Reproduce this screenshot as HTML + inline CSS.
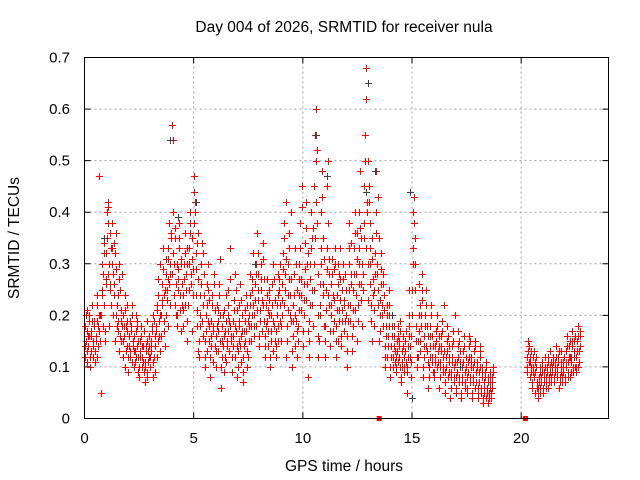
<!DOCTYPE html>
<html><head><meta charset="utf-8"><style>
html,body{margin:0;padding:0;background:#fff;}
svg{display:block;font-family:"Liberation Sans",sans-serif;}
</style></head><body>
<svg id="chart" width="640" height="480" viewBox="0 0 640 480">
<text x="344" y="32" font-size="15.5" text-anchor="middle">Day 004 of 2026, SRMTID for receiver nula</text>
<text x="19" y="238" font-size="15.5" text-anchor="middle" transform="rotate(-90 19 238)">SRMTID / TECUs</text>
<text x="344" y="471" font-size="15.5" text-anchor="middle">GPS time / hours</text>
<g id="grid"></g>
<g id="axes"></g>
<g id="marks"></g>
<rect x="84.5" y="57.5" width="524" height="361" fill="none" stroke="#000" stroke-width="1"/>
</svg>
<script>
const xTicks=[0,5,10,15,20];
const yTicks=[0,0.1,0.2,0.3,0.4,0.5,0.6,0.7];
const yTickLabels=["0","0.1","0.2","0.3","0.4","0.5","0.6","0.7"];
const segHours=[0,0.25,0.5,0.75,1,1.25,1.5,1.75,2,2.25,2.5,2.75,3,3.25,3.5,3.75,4,4.25,4.5,4.75,5,5.25,5.5,5.75,6,6.25,6.5,6.75,7,7.25,7.5,7.75,8,8.25,8.5,8.75,9,9.25,9.5,9.75,10,10.25,10.5,10.75,11,11.25,11.5,11.75,12,12.25,12.5,12.75,13,13.25,13.5,13.75,14,14.25,14.5,14.75,15,15.25,15.5,15.75,16,16.25,16.5,16.75,17,17.25,17.5,17.75,18,18.25,18.5,20.25,20.5,20.75,21,21.25,21.5,21.75,22,22.25,22.5];
const segValues=[
[.12,.18,.15,.21,.11,.14,.19,.16],[.10,.13,.17,.22,.12,.15,.19,.11],[.13,.16,.24,.12,.18,.20,.47,.15],[.05,.25,.30,.18,.22,.34,.15,.27],
[.32,.40,.42,.28,.18,.36,.25,.22],[.30,.38,.20,.34,.26,.15,.36,.18],[.22,.17,.30,.13,.25,.19,.15,.28],[.12,.20,.16,.24,.10,.18,.14,.22],
[.09,.14,.19,.12,.17,.22,.11,.15],[.10,.16,.13,.20,.12,.18,.09,.15],[.08,.12,.15,.18,.10,.14,.11,.17],[.07,.11,.14,.19,.09,.13,.16,.12],
[.10,.15,.13,.18,.20,.08,.12,.16],[.14,.18,.22,.12,.27,.16,.20,.30],[.16,.22,.26,.33,.19,.24,.14,.28],[.20,.25,.31,.18,.38,.22,.28,.35],
[.57,.54,.40,.30,.22,.35,.26,.18],[.20,.27,.33,.38,.24,.17,.30,.22],[.18,.24,.30,.36,.22,.28,.15,.33],[.22,.30,.38,.40,.26,.35,.17,.29],
[.47,.44,.40,.32,.24,.18,.36,.13],[.12,.18,.24,.30,.34,.16,.22,.28],[.10,.15,.20,.26,.13,.30,.18,.23],[.08,.14,.19,.24,.17,.11,.28,.21],
[.10,.16,.22,.13,.19,.26,.15,.31],[.06,.12,.18,.14,.21,.09,.17,.24],[.11,.15,.20,.25,.13,.18,.33,.16],[.09,.14,.19,.23,.12,.28,.17,.21],
[.08,.13,.18,.22,.26,.11,.16,.20],[.07,.12,.17,.21,.15,.24,.10,.19],[.12,.18,.22,.28,.15,.25,.20,.32],[.16,.20,.26,.30,.18,.36,.23,.28],
[.14,.19,.25,.30,.17,.22,.34,.27],[.12,.16,.22,.27,.19,.14,.25,.20],[.10,.15,.20,.26,.13,.30,.18,.23],[.12,.17,.22,.28,.15,.25,.19,.30],
[.15,.20,.26,.32,.38,.22,.28,.42],[.12,.18,.24,.30,.36,.20,.27,.40],[.10,.16,.22,.28,.14,.33,.19,.25],[.12,.18,.24,.30,.38,.21,.27,.45],
[.14,.20,.26,.34,.42,.23,.30,.17],[.08,.15,.22,.30,.40,.25,.35,.18],[.30,.45,.55,.60,.50,.38,.20,.12],[.15,.22,.30,.40,.48,.26,.35,.18],
[.12,.18,.25,.33,.45,.50,.22,.28],[.14,.20,.26,.31,.17,.23,.29,.33],[.12,.18,.24,.30,.15,.21,.27,.33],[.14,.19,.25,.30,.17,.22,.28,.20],
[.10,.16,.22,.30,.38,.19,.26,.34],[.13,.18,.25,.33,.40,.21,.28,.36],[.15,.22,.30,.40,.48,.26,.35,.18],[.25,.35,.45,.55,.62,.68,.40,.30],
[.50,.45,.38,.30,.22,.15,.35,.27],[.18,.25,.32,.40,.48,.28,.22,.35],[.15,.20,.26,.32,.22,.18,.28,.24],[.10,.14,.18,.22,.12,.16,.20,.25],
[.08,.12,.16,.20,.10,.14,.18,.11],[.09,.12,.15,.18,.11,.14,.17,.10],[.07,.10,.13,.16,.09,.12,.15,.11],[.05,.10,.14,.18,.25,.12,.08,.16],
[.20,.30,.40,.43,.35,.25,.15,.10],[.10,.15,.20,.26,.13,.18,.23,.28],[.08,.12,.16,.20,.25,.14,.18,.11],[.06,.10,.14,.18,.22,.12,.16,.09],
[.08,.11,.14,.17,.20,.10,.13,.16],[.06,.10,.13,.16,.19,.09,.12,.22],[.05,.09,.12,.15,.18,.08,.11,.14],[.04,.08,.11,.14,.17,.07,.10,.20],
[.05,.08,.11,.14,.17,.07,.10,.13],[.04,.07,.10,.13,.16,.06,.09,.12],[.05,.08,.11,.14,.16,.07,.10,.12],[.04,.07,.10,.13,.15,.06,.09,.11],
[.04,.06,.09,.12,.14,.05,.08,.10],[.03,.05,.07,.09,.11,.04,.06,.08],[.03,.05,.07,.09,.04,.06,.08,.10],
[.09,.12,.15,.11,.14,.08,.13,.10],[.06,.09,.12,.08,.11,.05,.10,.07],[.04,.06,.08,.10,.05,.07,.09,.11],[.05,.07,.09,.12,.06,.08,.10,.11],
[.06,.08,.10,.13,.07,.09,.11,.12],[.07,.09,.11,.14,.08,.10,.12,.13],[.06,.08,.10,.13,.07,.09,.11,.12],[.07,.10,.13,.16,.08,.11,.14,.12],
[.08,.11,.14,.17,.09,.12,.15,.10],[.09,.12,.15,.18,.10,.13,.16,.14]];
const segValuesB=[
[.14,.20,.17,.13,.16,.20],[.12,.16,.19,.14,.18,.13],[.15,.19,.22,.14,.17,.20],[.20,.24,.28,.32,.17,.26],
[.35,.38,.41,.30,.26,.33],[.33,.28,.24,.32,.20,.29],[.19,.24,.27,.16,.21,.18],[.15,.18,.21,.13,.17,.19],
[.12,.16,.13,.18,.20,.14],[.13,.11,.17,.14,.19,.12],[.10,.13,.16,.12,.14,.09],[.10,.13,.08,.15,.11,.14],
[.12,.14,.17,.11,.19,.09],[.17,.21,.15,.24,.19,.13],[.20,.23,.29,.17,.25,.31],[.23,.27,.33,.26,.30,.36],
[.28,.32,.24,.37,.20,.30],[.25,.29,.35,.21,.31,.26],[.21,.27,.32,.25,.19,.30],[.25,.33,.36,.28,.31,.24],
[.38,.42,.29,.34,.21,.27],[.15,.20,.26,.19,.32,.24],[.12,.17,.22,.19,.25,.15],[.12,.16,.22,.18,.26,.14],
[.13,.18,.21,.17,.24,.20],[.10,.15,.20,.16,.12,.19],[.14,.17,.22,.19,.27,.15],[.12,.16,.21,.18,.25,.14],
[.10,.15,.19,.14,.23,.17],[.09,.14,.19,.17,.22,.13],[.15,.20,.24,.18,.27,.22],[.18,.23,.28,.21,.32,.25],
[.16,.21,.27,.23,.31,.19],[.14,.18,.24,.21,.17,.23],[.12,.17,.22,.19,.27,.15],[.14,.20,.24,.18,.27,.22],
[.18,.23,.29,.35,.25,.31],[.15,.21,.27,.33,.24,.19],[.13,.19,.24,.20,.30,.17],[.15,.21,.27,.33,.24,.41],
[.17,.23,.29,.37,.26,.32],[.12,.19,.27,.33,.22,.37],[.25,.35,.42,.52,.28,.16],[.20,.26,.33,.43,.24,.31],
[.15,.21,.29,.38,.24,.31],[.17,.22,.28,.24,.19,.30],[.15,.21,.26,.19,.28,.23],[.16,.21,.27,.23,.19,.25],
[.13,.19,.25,.33,.22,.28],[.16,.21,.28,.36,.24,.31],[.19,.26,.33,.37,.23,.30],[.28,.38,.50,.33,.42,.23],
[.42,.33,.26,.19,.31,.24],[.21,.28,.36,.30,.25,.43],[.17,.23,.29,.20,.26,.21],[.12,.16,.20,.14,.18,.22],
[.10,.14,.18,.12,.16,.13],[.10,.13,.16,.12,.15,.19],[.08,.11,.14,.10,.13,.17],[.09,.12,.16,.20,.14,.11],
[.25,.33,.38,.30,.18,.12],[.12,.17,.22,.15,.20,.25],[.10,.14,.18,.22,.13,.16],[.08,.12,.16,.20,.11,.14],
[.09,.12,.15,.18,.11,.14],[.08,.11,.14,.17,.10,.13],[.07,.10,.13,.16,.09,.12],[.06,.09,.12,.15,.08,.11],
[.06,.09,.12,.15,.08,.11],[.05,.08,.11,.14,.07,.10],[.06,.09,.12,.15,.08,.11],[.05,.08,.11,.14,.07,.10],
[.05,.07,.10,.13,.06,.09],[.04,.06,.08,.10,.05,.07],[.04,.06,.08,.05,.07,.09],
[.10,.13,.14,.12,.11,.09],[.07,.10,.13,.09,.12,.06],[.05,.07,.09,.06,.08,.10],[.06,.08,.10,.07,.09,.12],
[.07,.09,.11,.08,.10,.12],[.08,.10,.12,.09,.11,.13],[.07,.09,.11,.08,.10,.12],[.08,.11,.14,.09,.12,.15],
[.09,.12,.15,.10,.13,.16],[.10,.13,.16,.11,.14,.17]];
const grayHours=[0.9,3.9,4.3,5.1,7.8,10.6,11.1,12.9,13.0,13.3,14.1,14.9,15.0,17.2];
const grayValues=[0.35,0.54,0.39,0.42,0.30,0.55,0.47,0.44,0.65,0.48,0.20,0.44,0.04,0.10];
const zeroHours=[13.5,20.2];
const zeroValues=[0,0];

const X0=84.5,X1=608.5,Y0=418.5,Y1=57.5,XMAX=24,YMAX=0.7;
function xs(h){return X0+(h/XMAX)*(X1-X0);}
function ys(v){return Y0-(v/YMAX)*(Y0-Y1);}
const NS='http://www.w3.org/2000/svg';
function mk(tag,attrs,parent){const e=document.createElementNS(NS,tag);for(const k in attrs)e.setAttribute(k,attrs[k]);parent.appendChild(e);return e;}
const grid=document.getElementById('grid'),axes=document.getElementById('axes'),marks=document.getElementById('marks');
yTicks.forEach((t,i)=>{
  const y=ys(t);
  if(i>0&&i<yTicks.length-1){const g=mk('line',{x1:X0,x2:X1,y1:y,y2:y,stroke:'#a0a0a0','stroke-dasharray':'2,3'},grid);
  
  }
  const tk=mk('path',{d:`M${X0} ${y}h6M${X1} ${y}h-6`,stroke:'#000'},axes);
  
  
  const tx=mk('text',{x:70,y:y+5,'font-size':15,'text-anchor':'end'},axes);tx.textContent=yTickLabels[i];
  
  
});
xTicks.forEach((t,i)=>{
  const x=xs(t);
  if(i>0){const g=mk('line',{x1:x,x2:x,y1:Y0,y2:Y1,stroke:'#a0a0a0','stroke-dasharray':'2,3'},grid);
  
  }
  const tk=mk('path',{d:`M${x} ${Y0}v-6M${x} ${Y1}v6`,stroke:'#000'},axes);
  
  
  const tx=mk('text',{x:x,y:443,'font-size':15,'text-anchor':'middle'},axes);tx.textContent=String(t);
  
  
});
function plus(h,v,color){
  const x=Math.round(xs(h))+0.5,y=Math.round(ys(v))+0.5;
  const p=mk('path',{d:`M${x-3.5} ${y}h7M${x} ${y-3.5}v7`,stroke:color,'stroke-width':1,fill:'none'},marks);
  
  
}
segHours.forEach((h,i)=>{segValues[i].forEach((v,j)=>plus(h+j*0.031,v,'#ff0000'));});
segHours.forEach((h,i)=>{segValuesB[i].forEach((v,j)=>plus(h+0.015+j*0.04,v,'#ff0000'));});
grayHours.forEach((h,i)=>plus(h,grayValues[i],'#404040'));
zeroHours.forEach((h,i)=>{
  const r=mk('rect',{x:xs(h)-2.5,y:ys(zeroValues[i])-2.5,width:5,height:5,fill:'#ff0000'},marks);
  
  
});
</script>
</body></html>
